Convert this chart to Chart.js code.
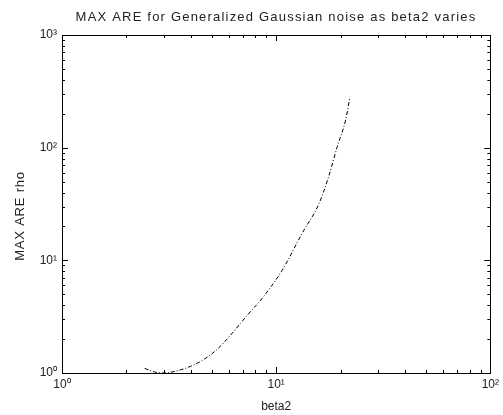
<!DOCTYPE html>
<html>
<head>
<meta charset="utf-8">
<script src="https://cdn.jsdelivr.net/npm/chart.js@4.4.1/dist/chart.umd.min.js"></script>
<style>
  html, body { margin: 0; padding: 0; background: #fff; }
  #wrap { width: 503px; height: 415px; }
</style>
</head>
<body>
<div id="wrap"><canvas id="areChart" width="503" height="415"></canvas></div>
<script>
// values (log-log)
const beta2 = [2.43, 2.71, 2.95, 3.54, 4.38, 5.26, 6.24, 7.33, 8.61, 10.66, 13.2, 15.85, 17.64, 19.22, 21.16, 22.1];
const maxAre = [1.1, 1.02, 1.0, 1.06, 1.25, 1.6, 2.26, 3.26, 4.61, 8.15, 17.3, 31.9, 56.5, 100, 180, 282];
const xTicks = [1, 10, 100];
const yTicks = [1, 10, 100, 1000];
const tickText = { 1: "10\u2070", 10: "10\u00b9", 100: "10\u00b2", 1000: "10\u00b3" };
const titleText = "MAX ARE for Generalized Gaussian noise as beta2 varies";
const yLabel = "MAX ARE rho";

const FONT = "'Liberation Sans', Arial, sans-serif";
Chart.defaults.font.family = FONT;
Chart.defaults.color = "#222";

// matlab style box with inward ticks on all four sides, plus title / y label
const boxTicks = {
  id: "boxTicks",
  afterDatasetsDraw(chart) {
    const { ctx, chartArea: a, scales: { x, y } } = chart;
    ctx.save();
    ctx.strokeStyle = "#000";
    ctx.lineWidth = 1;
    ctx.strokeRect(Math.round(a.left) + 0.5, Math.round(a.top) + 0.5,
      Math.round(a.right - a.left), Math.round(a.bottom - a.top));
    ctx.beginPath();
    for (let d = 0; d < 3; d++) {
      for (let m = 1; m <= 9; m++) {
        const v = m * Math.pow(10, d);
        const len = m === 1 ? 6 : 3;
        if (v <= 100) {
          const px = Math.round(x.getPixelForValue(v)) + 0.5;
          ctx.moveTo(px, a.bottom); ctx.lineTo(px, a.bottom - len);
          ctx.moveTo(px, a.top); ctx.lineTo(px, a.top + len);
        }
        const py = Math.round(y.getPixelForValue(v)) + 0.5;
        ctx.moveTo(a.left, py); ctx.lineTo(a.left + len, py);
        ctx.moveTo(a.right, py); ctx.lineTo(a.right - len, py);
      }
    }
    ctx.stroke();

    ctx.fillStyle = "#222";
    ctx.textAlign = "center";
    ctx.textBaseline = "middle";
    ctx.font = "13px " + FONT;
    ctx.letterSpacing = "1.2px";
    ctx.fillText(titleText, 276, 17);

    ctx.letterSpacing = "0.8px";
    ctx.translate(20, 216);
    ctx.rotate(-Math.PI / 2);
    ctx.fillText(yLabel, 0, 0);
    ctx.restore();
  }
};

new Chart(document.getElementById("areChart").getContext("2d"), {
  type: "line",
  data: {
    datasets: [
      {
        label: "MAX ARE",
        data: beta2.map((b, i) => ({ x: b, y: maxAre[i] })),
        borderColor: "#000",
        borderWidth: 1,
        borderDash: [4, 2, 1, 2],
        pointRadius: 0,
        cubicInterpolationMode: "monotone",
        fill: false,
      },
    ],
  },
  options: {
    responsive: false,
    animation: false,
    layout: { padding: { left: 6, right: 3, top: 35, bottom: 0 } },
    plugins: {
      legend: { display: false },
      tooltip: { enabled: false },
      title: { display: false },
    },
    scales: {
      x: {
        type: "logarithmic",
        min: 1,
        max: 100,
        afterBuildTicks: (s) => { s.ticks = xTicks.map((v) => ({ value: v })); },
        afterFit: (s) => { s.height = 42; },
        grid: { display: false, drawTicks: false },
        border: { display: false },
        ticks: { callback: (v) => tickText[v] || "", font: { size: 12 }, padding: 4, maxRotation: 0 },
        title: { display: true, text: "beta2", font: { size: 12 }, padding: { top: 1, bottom: 1 } },
      },
      y: {
        type: "logarithmic",
        min: 1,
        max: 1000,
        afterBuildTicks: (s) => { s.ticks = yTicks.map((v) => ({ value: v })); },
        afterFit: (s) => { s.width = 56; },
        grid: { display: false, drawTicks: false },
        border: { display: false },
        ticks: { callback: (v) => tickText[v] || "", font: { size: 12 }, padding: 5 },
      },
    },
  },
  plugins: [boxTicks],
});
</script>
</body>
</html>
